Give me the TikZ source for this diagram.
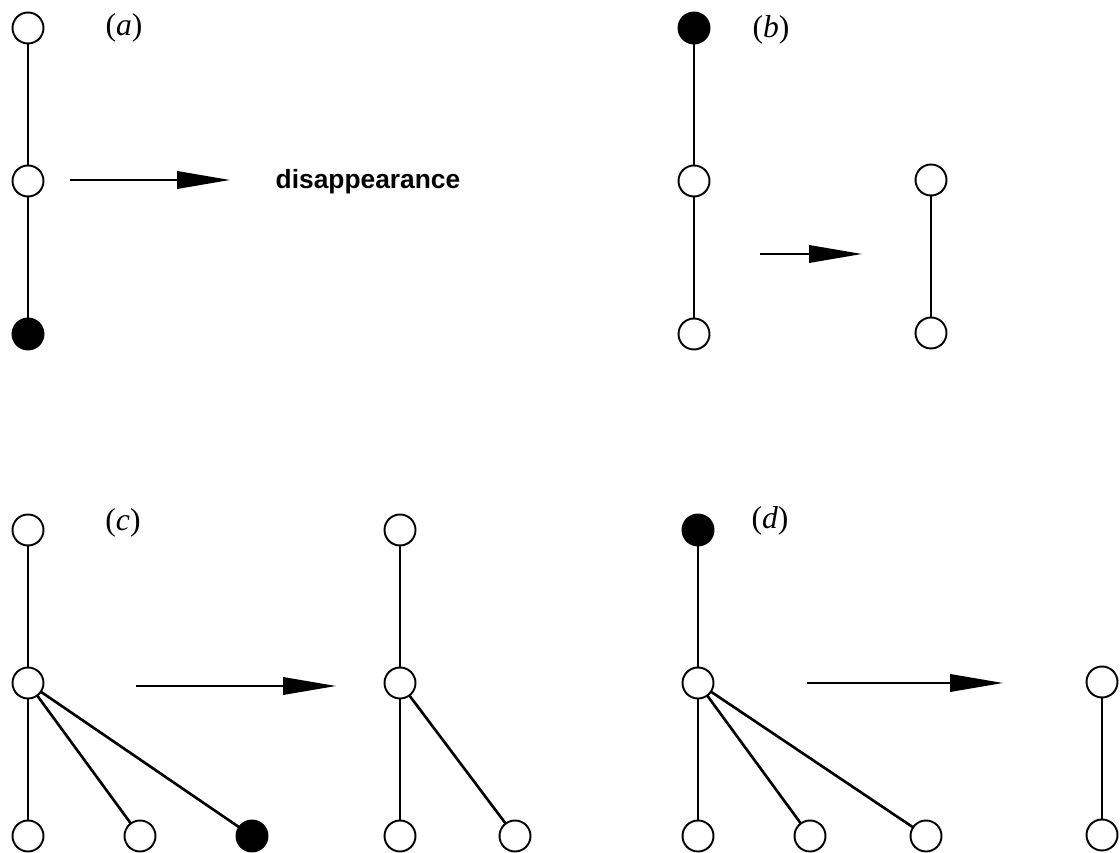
\documentclass[tikz,border=0pt]{standalone}
\usepackage{fontspec}
\setmainfont{Liberation Serif}
\newfontfamily\headsans{Liberation Sans}
\usetikzlibrary{positioning, arrows.meta}

\begin{document}
\begin{tikzpicture}[
    node distance=2.44cm,
    vtx/.style={circle, draw, line width=1.1pt, fill=white, minimum size=6.2mm,
                inner sep=0pt, outer sep=0pt},
    full/.style={vtx, fill=black},
    lbl/.style={font=\fontsize{18}{20}\selectfont},
    edge/.style={line width=1.1pt},
    slant/.style={line width=1.5pt},
    arrow/.style={-{Triangle[length=10.6mm, width=3.5mm]}, line width=1.1pt}
]
  \useasboundingbox (0,0) rectangle (22.4,17.06);

  % (a)
  \node[vtx] (a1) at (0.56,16.5) {};
  \node[vtx, below=of a1] (a2) {};
  \node[full, below=of a2] (a3) {};
  \node[lbl] (la) at (2.48,16.5) {(\textit{a})};
  \node[font=\headsans\bfseries\fontsize{15}{18}\selectfont] (dis) at (7.36,13.42) {disappearance};
  \coordinate (aS) at (1.4,13.46);
  \coordinate (aE) at (4.6,13.46);

  \draw[edge] (a1) -- (a2);
  \draw[edge] (a2) -- (a3);
  \draw[arrow] (aS) -- (aE);

  % (b)
  \node[full] (b1) at (13.88,16.5) {};
  \node[vtx, below=of b1] (b2) {};
  \node[vtx, below=of b2] (b3) {};
  \node[vtx] (b4) at (18.62,13.46) {};
  \node[vtx, below=of b4] (b5) {};
  \node[lbl] (lb) at (15.42,16.46) {(\textit{b})};
  \coordinate (bS) at (15.2,11.98);
  \coordinate (bE) at (17.24,11.98);

  \draw[edge] (b1) -- (b2);
  \draw[edge] (b2) -- (b3);
  \draw[edge] (b4) -- (b5);
  \draw[arrow] (bS) -- (bE);

  % (c)
  \node[vtx] (c1) at (0.56,6.46) {};
  \node[vtx, below=of c1] (c2) {};
  \node[vtx, below=of c2] (c3) {};
  \node[vtx, right=1.62cm of c3] (c4) {};
  \node[full, right=1.62cm of c4] (c5) {};
  \node[vtx] (c6) at (8.0,6.46) {};
  \node[vtx, below=of c6] (c7) {};
  \node[vtx, below=of c7] (c8) {};
  \node[vtx, right=1.68cm of c8] (c9) {};
  \node[lbl] (lc) at (2.46,6.6) {(\textit{c})};
  \coordinate (cS) at (2.72,3.34);
  \coordinate (cE) at (6.72,3.34);

  \draw[edge] (c1) -- (c2);
  \draw[edge] (c2) -- (c3);
  \draw[slant] (c2) -- (c4);
  \draw[slant] (c2) -- (c5);
  \draw[edge] (c6) -- (c7);
  \draw[edge] (c7) -- (c8);
  \draw[slant] (c7) -- (c9);
  \draw[arrow] (cS) -- (cE);

  % (d)
  \node[full] (d1) at (13.96,6.46) {};
  \node[vtx, below=of d1] (d2) {};
  \node[vtx, below=of d2] (d3) {};
  \node[vtx, right=1.62cm of d3] (d4) {};
  \node[vtx, right=1.7cm of d4] (d5) {};
  \node[vtx] (d6) at (22.04,3.42) {};
  \node[vtx, below=of d6] (d7) {};
  \node[lbl] (ld) at (15.4,6.64) {(\textit{d})};
  \coordinate (dS) at (16.14,3.40);
  \coordinate (dE) at (20.06,3.40);

  \draw[edge] (d1) -- (d2);
  \draw[edge] (d2) -- (d3);
  \draw[slant] (d2) -- (d4);
  \draw[slant] (d2) -- (d5);
  \draw[edge] (d6) -- (d7);
  \draw[arrow] (dS) -- (dE);
\end{tikzpicture}
\end{document}
